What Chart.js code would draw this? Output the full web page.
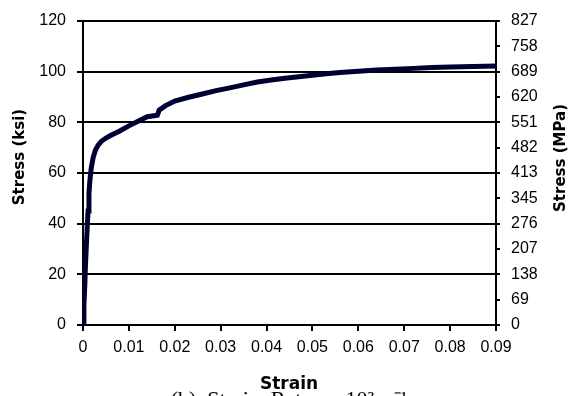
<!DOCTYPE html>
<html>
<head>
<meta charset="utf-8">
<script src="https://cdn.jsdelivr.net/npm/chart.js@4/dist/chart.umd.min.js"></script>
<style>
  html, body { margin: 0; padding: 0; background: #fff; }
  canvas { display: block; }
</style>
</head>
<body>
<canvas id="chart" width="571" height="396"></canvas>
<script>
// stress-strain readings (strain, ksi)
const strain = [0, 0.0002, 0.0004, 0.0005, 0.0007, 0.0009, 0.0011, 0.0013, 0.0015, 0.0018,
  0.0022, 0.0027, 0.0033, 0.004, 0.005, 0.006, 0.008, 0.010, 0.012, 0.014,
  0.0162, 0.0166, 0.018, 0.020, 0.023, 0.026, 0.029, 0.032, 0.035, 0.038,
  0.041, 0.044, 0.047, 0.050, 0.053, 0.056, 0.060, 0.064, 0.068, 0.072,
  0.076, 0.080, 0.085, 0.090]
const stressKsi = [0, 8, 16, 22, 30, 38, 45, 52, 57, 62,
  66, 69, 71, 72.5, 73.8, 74.8, 76.6, 78.6, 80.4, 82.2,
  82.8, 84.8, 86.6, 88.4, 89.9, 91.2, 92.5, 93.6, 94.8, 95.9,
  96.7, 97.4, 98.0, 98.6, 99.2, 99.7, 100.2, 100.7, 101.0, 101.3,
  101.6, 101.8, 102.0, 102.2]
const mpaLabels = ["0", "69", "138", "207", "276", "345", "413", "482", "551", "620", "689", "758", "827"]

const xTitle = "Strain"
const yTitle = "Stress (ksi)"
const y2Title = "Stress (MPa)"
const caption = "(b)  Strain  Rate  =  10\u00B2  s\u207B\u00B9"

const tickFont = { family: "'Liberation Sans', Arial, sans-serif", size: 16 }

const titles = {
  id: "titles",
  afterDraw(chart) {
    const ctx = chart.ctx
    ctx.save()
    ctx.fillStyle = "#000"
    ctx.font = "bold 15px 'DejaVu Sans', sans-serif"
    ctx.textAlign = "center"
    ctx.textBaseline = "middle"
    ctx.save()
    ctx.translate(20, 157)
    ctx.rotate(-Math.PI / 2)
    ctx.fillText(yTitle, 0, 0)
    ctx.restore()
    ctx.save()
    ctx.translate(561, 158)
    ctx.rotate(-Math.PI / 2)
    ctx.fillText(y2Title, 0, 0)
    ctx.restore()
    ctx.font = "bold 17px 'DejaVu Sans', sans-serif"
    ctx.textBaseline = "alphabetic"
    ctx.fillText(xTitle, 289, 389)
    ctx.font = "22px 'Liberation Serif', 'Times New Roman', serif"
    ctx.fillText(caption, 289, 406)
    ctx.restore()
  }
}

const ctx = document.getElementById("chart").getContext("2d")
new Chart(ctx, {
  type: "scatter",
  data: {
    datasets: [
      {
        data: strain.map((s, i) => ({ x: s, y: stressKsi[i] })),
        showLine: true,
        borderColor: "#000033",
        borderWidth: 5,
        pointRadius: 0,
        tension: 0,
      },
    ],
  },
  options: {
    responsive: false,
    animation: false,
    devicePixelRatio: 1,
    layout: { padding: { top: 21, left: 0, right: 0, bottom: 0 } },
    plugins: {
      legend: { display: false },
      tooltip: { enabled: false },
    },
    scales: {
      x: {
        type: "linear",
        position: "bottom",
        min: 0,
        max: 0.09,
        afterFit(scale) { scale.height = 71 },
        ticks: {
          stepSize: 0.01,
          color: "#000",
          font: tickFont,
          padding: 7,
          maxRotation: 0,
          callback: (v) => (v === 0 ? "0" : (Math.round(v * 100) / 100).toFixed(2)),
        },
        grid: { drawOnChartArea: false, drawTicks: true, tickLength: 6, color: "#000", lineWidth: 2 },
        border: { display: true, color: "#000", width: 2 },
      },
      y: {
        position: "left",
        min: 0,
        max: 120,
        afterFit(scale) { scale.width = 83 },
        ticks: { stepSize: 20, color: "#000", font: tickFont, padding: 11 },
        grid: { color: "#000", lineWidth: 2, tickLength: 6 },
        border: { display: true, color: "#000", width: 2 },
      },
      y2: {
        position: "right",
        min: 0,
        max: 120,
        afterFit(scale) { scale.width = 75 },
        ticks: {
          stepSize: 10,
          color: "#000",
          font: tickFont,
          padding: 11,
          callback: (v, i) => mpaLabels[i],
        },
        grid: { drawOnChartArea: false, color: "#000", lineWidth: 2, tickLength: 4 },
        border: { display: true, color: "#000", width: 2 },
      },
    },
  },
  plugins: [titles],
})
</script>
</body>
</html>
